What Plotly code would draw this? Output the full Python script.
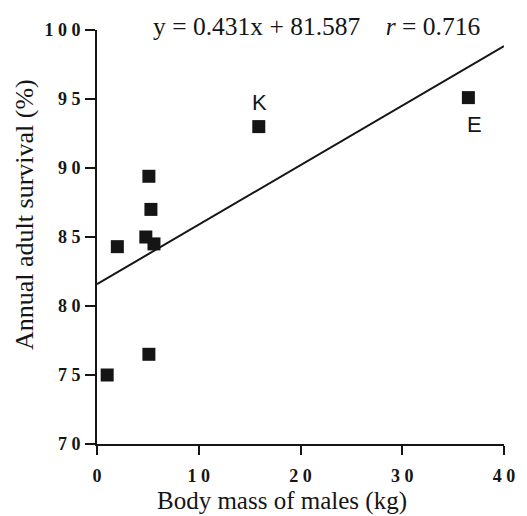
import plotly.graph_objects as go

# Data
mass_kg = [1.0, 5.1, 2.0, 4.8, 5.6, 5.3, 5.1, 15.9, 36.5]
survival_pct = [75.0, 76.5, 84.3, 85.0, 84.5, 87.0, 89.4, 93.0, 95.1]
point_labels = ["", "", "", "", "", "", "", "K", "E"]
slope = 0.431
intercept = 81.587
r_value = 0.716
x_ticks = [0, 10, 20, 30, 40]
y_ticks = [70, 75, 80, 85, 90, 95, 100]
x_range = [0, 40]
y_range = [70, 100]

INK = "#151515"
SERIF = "Liberation Serif, Times New Roman, serif"
SANS = "Liberation Sans, Arial, sans-serif"


def spaced(v):
    # the reference prints tick digits letter-spaced
    return "<b>" + " ".join(str(v)) + "</b>"


fig = go.Figure()

# Regression line
line_x = [x_range[0], x_range[1]]
line_y = [slope * v + intercept for v in line_x]
fig.add_trace(go.Scatter(x=line_x, y=line_y, mode="lines",
                         line=dict(color=INK, width=2), showlegend=False,
                         hoverinfo="skip"))

# Points
fig.add_trace(go.Scatter(x=mass_kg, y=survival_pct, mode="markers",
                         marker=dict(symbol="square", size=13, color=INK),
                         showlegend=False))

# Point labels K and E
for xv, yv, lab in zip(mass_kg, survival_pct, point_labels):
    if not lab:
        continue
    if lab == "K":
        xs, ys = 1, 24
    else:
        xs, ys = 6, -27
    fig.add_annotation(x=xv, y=yv, xref="x", yref="y", text=lab,
                       showarrow=False, yshift=ys, xshift=xs,
                       font=dict(family=SANS, size=22, color=INK))

# Equation
fig.add_annotation(x=0.5, y=1.0, xref="paper", yref="paper",
                   xanchor="center", yanchor="middle", xshift=16, yshift=4,
                   text=f"y = {slope}x + {intercept}&nbsp;&nbsp;&nbsp;&nbsp;<i>r</i> = {r_value}",
                   showarrow=False,
                   font=dict(family=SERIF, size=25.5, color=INK))

# Axis titles as annotations for precise placement
fig.add_annotation(x=0.5, y=0, xref="paper", yref="paper",
                   xanchor="center", yanchor="middle", xshift=-19, yshift=-57,
                   text="Body mass of males (kg)", showarrow=False,
                   font=dict(family=SERIF, size=25, color=INK))
fig.add_annotation(x=0, y=0.5, xref="paper", yref="paper",
                   xanchor="center", yanchor="middle", xshift=-73, yshift=22,
                   text="Annual adult survival (%)", textangle=-90,
                   showarrow=False,
                   font=dict(family=SERIF, size=26, color=INK))

tickfont = dict(family=SERIF, size=18, color=INK)

fig.update_xaxes(range=x_range, tickvals=x_ticks,
                 ticktext=[spaced(t) for t in x_ticks],
                 showgrid=False, zeroline=False, showline=True, linecolor=INK,
                 linewidth=2, ticks="outside", ticklen=9, tickwidth=2,
                 tickcolor=INK, tickfont=tickfont, ticklabelstandoff=5)
fig.update_yaxes(range=y_range, tickvals=y_ticks,
                 ticktext=[spaced(t) for t in y_ticks],
                 showgrid=False, zeroline=False, showline=True, linecolor=INK,
                 linewidth=2, ticks="outside", ticklen=10, tickwidth=2,
                 tickcolor=INK, tickfont=tickfont, ticklabelstandoff=1)

# The page body has an 8px margin; size the figure so the plot area
# lands at the same window position as the reference.
fig.update_layout(width=519, height=508,
                  margin=dict(l=89, r=15, t=18, b=72),
                  plot_bgcolor="white", paper_bgcolor="white")

fig.write_html("out.html", config={"displayModeBar": False})
